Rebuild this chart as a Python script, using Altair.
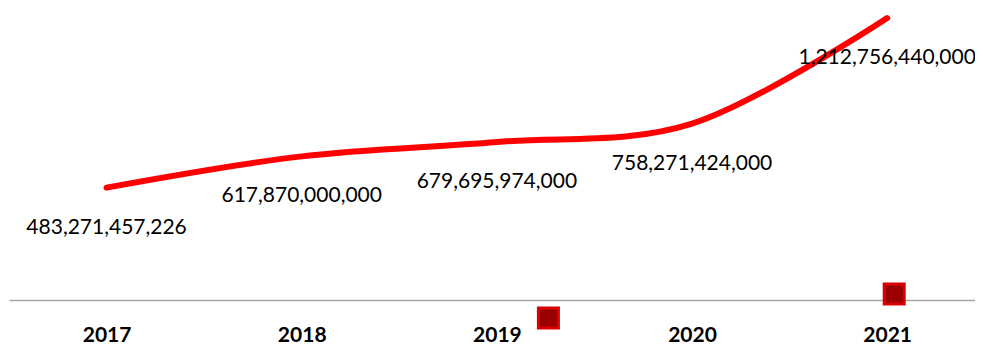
import altair as alt
import pandas as pd

years = [2017, 2018, 2019, 2020, 2021]
values = [483271457226, 617870000000, 679695974000, 758271424000, 1212756440000]

# two stray square markers seen in the reference
marker_years = [2019.264, 2021.036]
marker_values = [-77.4e9, 25.8e9]

df = pd.DataFrame({"year": years, "value": values})
mk = pd.DataFrame({"year": marker_years, "value": marker_values})

FONT = "Lato"
xscale = alt.Scale(domain=[2016.5, 2021.45], nice=False, zero=False)
yscale = alt.Scale(domain=[0, 1.256e12], nice=False)

base = alt.Chart(df)

line = base.mark_line(
    color="#FF0000", strokeWidth=6, strokeCap="round", interpolate="cardinal"
).encode(
    x=alt.X("year:Q", scale=xscale,
            axis=alt.Axis(values=years, format="d", title=None, grid=False, ticks=False,
                          labelFont=FONT, labelFontSize=21, labelFontWeight="bold",
                          labelColor="#000000", labelPadding=24, labelBaseline="top",
                          domainColor="#A6A6A6", domainWidth=1.5)),
    y=alt.Y("value:Q", scale=yscale, axis=None),
)

labels = base.mark_text(
    font=FONT, fontSize=21, color="#000000", dy=40, align="center", baseline="middle"
).encode(
    x=alt.X("year:Q", scale=xscale),
    y=alt.Y("value:Q", scale=yscale),
    text=alt.Text("value:Q", format=",.0f"),
)

squares = alt.Chart(mk).mark_square(
    size=400, fill="#9A0000", stroke="#D80000", strokeWidth=3, opacity=1
).encode(
    x=alt.X("year:Q", scale=xscale),
    y=alt.Y("value:Q", scale=yscale),
)

chart = alt.layer(line, labels, squares).properties(
    width=966, height=292,
    background="white",
    padding={"left": 1, "right": 0, "top": 0, "bottom": 47},
    autosize=alt.AutoSizeParams(type="none"),
).configure_view(strokeWidth=0, stroke="transparent")

chart.save("out.html", embed_options={"renderer": "svg", "actions": False})
